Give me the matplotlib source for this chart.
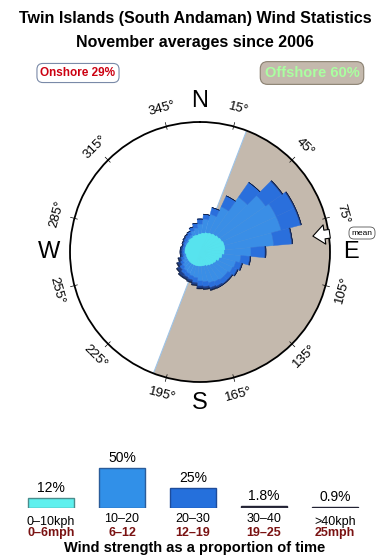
import numpy as np
import matplotlib
matplotlib.use('Agg')
import matplotlib.pyplot as plt

plt.rcParams['font.family'] = ['Liberation Sans', 'DejaVu Sans']

# wind rose data (bearing of sector centre, stacked radius per speed band)
directions = np.arange(0, 360, 10)
band_0_10 = [18, 19, 20, 21, 22, 23, 24, 25, 25, 24, 22, 20, 18, 17, 16, 15, 14, 14,
             14, 14, 14, 14, 14, 14, 14, 14, 14, 15, 15, 15, 15, 15, 16, 16, 17, 17]
band_10_20 = [10, 14, 19, 29, 45, 57, 60, 59, 49, 27, 19, 17, 18, 17, 18, 18, 18, 16,
              15, 12, 11, 10, 9, 7, 5, 3, 2, 1, 1, 1, 2, 2, 2, 3, 5, 7]
band_20_30 = [5, 5, 7, 12, 18, 20, 20, 20, 18, 14, 9, 6, 5, 5, 5, 5, 5, 5,
              5, 5, 4, 4, 4, 4, 3, 3, 2, 2, 2, 2, 2, 3, 3, 4, 4, 5]
band_30_40 = [0, 0, 0, 0, 0, 1, 1, 1, 1, 1, 1, 1, 1, 1, 1, 2, 2, 2,
              2, 2, 2, 2, 3, 3, 3, 2, 2, 2, 2, 1, 1, 1, 1, 0, 0, 0]
band_40 = [0, 0, 0, 0, 0, 0, 0, 0, 0, 0, 0, 0, 0, 0, 0, 0, 1, 1,
           1, 1, 1, 1, 1, 1, 1, 1, 0, 0, 0, 0, 0, 0, 0, 0, 0, 0]
rose_colors = ['#57e3ee', '#3a8ee6', '#2a6fdc', '#1d3f8c', '#0f1f44']

offshore_start, offshore_end = 21, 201
mean_dir = 82
onshore_pct, offshore_pct = 29, 60

# strength legend
bands_kph = ['0\u201310kph', '10\u201320', '20\u201330', '30\u201340', '>40kph']
bands_mph = ['0\u20136mph', '6\u201312', '12\u201319', '19\u201325', '25mph']
band_pct = [12, 50, 25, 1.8, 0.9]
band_lbl = ['12%', '50%', '25%', '1.8%', '0.9%']
bar_colors = ['#5ef0ee', '#3190e8', '#2570dc', '#333344', '#333344']
bar_edges = ['#4a8c8c', '#2a5c9a', '#1e4c9a', '#222233', '#222233']

R = 130
fig = plt.figure(figsize=(3.9, 5.6), dpi=100)

ax = fig.add_axes([70 / 390, (560 - 382) / 560, 260 / 390, 260 / 560], projection='polar')
ax.set_theta_zero_location('N')
ax.set_theta_direction(-1)
ax.set_ylim(0, R)
ax.grid(False)
ax.set_xticks([])
ax.set_yticks([])
ax.spines['polar'].set_linewidth(1.3)
ax.spines['polar'].set_zorder(10)

# offshore half
span = offshore_end - offshore_start
ax.bar(np.radians(offshore_start + span / 2), R, width=np.radians(span), bottom=0,
       color='#c4b9ad', edgecolor='none', zorder=1)
for b in (offshore_start, offshore_end):
    ax.plot([np.radians(b), np.radians(b)], [0, R], color='#9ec4e8', lw=0.8, zorder=1.5)

# rose
theta = np.radians(directions)
w = np.radians(10)
bottom = np.zeros(len(directions))
for vals, col in zip([band_0_10, band_10_20, band_20_30, band_30_40, band_40], rose_colors):
    vals = np.array(vals, dtype=float)
    ax.bar(theta, vals, width=w, bottom=bottom, color=col, edgecolor=col, lw=0.3, zorder=3)
    bottom = bottom + vals
ax.bar(theta, band_0_10, width=w, bottom=0, color=rose_colors[0], edgecolor=rose_colors[0], lw=0.3, zorder=4)

# degree ticks and labels
for b in range(15, 360, 30):
    t = np.radians(b)
    ax.plot([t, t], [R - 3, R + 4], color='black', lw=0.5, clip_on=False, zorder=11)
    rot = -b if (b < 90 or b > 270) else 180 - b
    ax.text(t, R + 18, '%d\u00b0' % b, rotation=rot, rotation_mode='anchor',
            ha='center', va='center', fontsize=9.5, clip_on=False)

for lbl, b in zip(['N', 'E', 'S', 'W'], [0, 90, 180, 270]):
    ax.text(np.radians(b), R + 21, lbl, ha='center', va='center', fontsize=17, clip_on=False)

# mean direction arrow
ax.annotate('', xy=(np.radians(mean_dir), R - 16), xytext=(np.radians(mean_dir), R + 1),
            arrowprops=dict(arrowstyle='simple,head_length=0.6,head_width=1.0,tail_width=0.45',
                            fc='white', ec='black', lw=0.8, mutation_scale=14,
                            shrinkA=0, shrinkB=0), zorder=12)
fig.text(362 / 390, 1 - 233 / 560, 'mean', ha='center', va='center', fontsize=6,
         bbox=dict(boxstyle='round,pad=0.3,rounding_size=0.6', fc='white', ec='#555555', lw=0.6))

# titles
fig.text(0.5, 1 - 18 / 560, 'Twin Islands (South Andaman) Wind Statistics', ha='center', va='center',
         fontsize=11.5, fontweight='bold')
fig.text(0.5, 1 - 42 / 560, 'November averages since 2006', ha='center', va='center',
         fontsize=11.5, fontweight='bold')
fig.text(78 / 390, 1 - 73 / 560, 'Onshore %d%%' % onshore_pct, ha='center', va='center',
         fontsize=8.5, fontweight='bold', color='#cc0011',
         bbox=dict(boxstyle='round,pad=0.3,rounding_size=0.5', fc='white', ec='#7a8aa8', lw=0.8))
fig.text(312 / 390, 1 - 73 / 560, 'Offshore %d%%' % offshore_pct, ha='center', va='center',
         fontsize=10.5, fontweight='bold', color='#aaffa0',
         bbox=dict(boxstyle='round,pad=0.3,rounding_size=0.5', fc='#c4b9ad', ec='#8a8070', lw=0.8))

# strength legend
lx = fig.add_axes([0, (560 - 507.7) / 560, 1, 60 / 560])
lx.set_xlim(-51 / 71, (390 - 51) / 71)
lx.set_ylim(0, 75)
lx.axis('off')
xs = np.arange(len(band_pct))
lx.bar(xs, band_pct, width=0.64, color=bar_colors, edgecolor=bar_edges, lw=1.0)
for i in xs:
    lx.annotate(band_lbl[i], (xs[i], band_pct[i]), xytext=(0, 2), textcoords='offset points',
                ha='center', va='bottom', fontsize=10)
    lx.annotate(bands_kph[i], (xs[i], 0), xytext=(0, -4 if i in (1, 2, 3) else -6),
                textcoords='offset points', ha='center', va='top', fontsize=9)
    lx.annotate(bands_mph[i], (xs[i], 0), xytext=(0, -14), textcoords='offset points',
                ha='center', va='top', fontsize=9, fontweight='bold', color='#7a1212')
fig.text(0.5, 1 - 548 / 560, 'Wind strength as a proportion of time', ha='center', va='center',
         fontsize=10.5, fontweight='bold')

fig.savefig('out.png', dpi=100)
